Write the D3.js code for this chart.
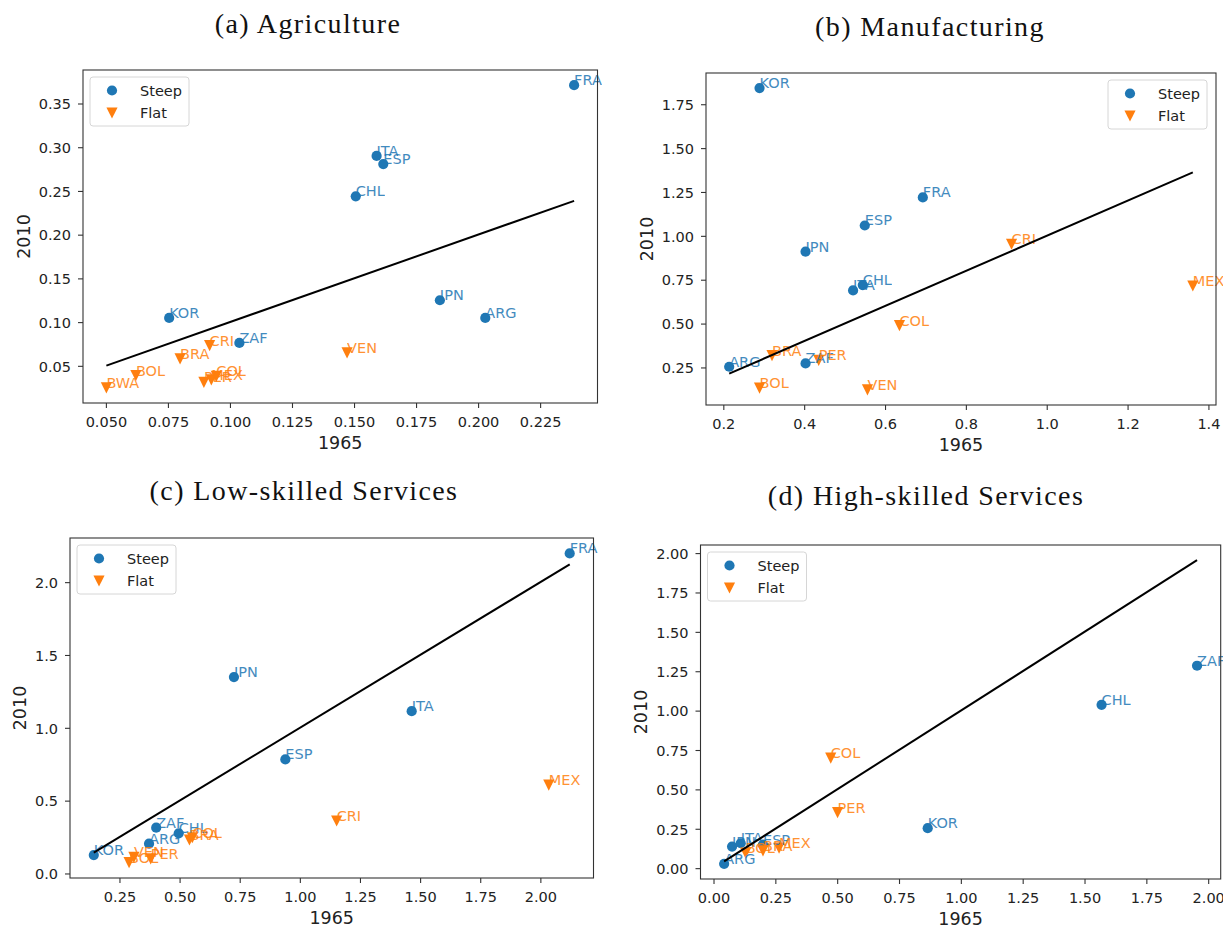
<!DOCTYPE html>
<html>
<head>
<meta charset="utf-8">
<script src="https://cdn.jsdelivr.net/npm/d3@7"></script>
<style>
  html, body { margin: 0; padding: 0; background: #fff; }
  svg { display: block; }
  .tick-label { font-family: "DejaVu Sans", sans-serif; font-size: 14.5px; fill: #222; }
  .axis-label { font-family: "DejaVu Sans", sans-serif; font-size: 17.5px; fill: #222; }
  .legend-label { font-family: "DejaVu Sans", sans-serif; font-size: 14.5px; fill: #222; }
  .point-label { font-family: "DejaVu Sans", sans-serif; font-size: 14.5px; opacity: 0.85; }
  .panel-title { font-family: "Liberation Serif", serif; font-size: 28px; letter-spacing: 1.4px; fill: #111; }
</style>
</head>
<body>
<svg id="chart" width="1223" height="928"></svg>
<script>
// Employment shares by sector, 1965 vs 2010, for countries with steep and flat profiles.
const groupNames = ["Steep", "Flat"];
const groupColors = ["#1f77b4", "#ff7f0e"];
const panelTitles = ["(a) Agriculture", "(b) Manufacturing", "(c) Low-skilled Services", "(d) High-skilled Services"];
const xAxisTitle = "1965";
const yAxisTitle = "2010";

// (a) Agriculture
const agriCodes = ["FRA", "ITA", "ESP", "CHL", "JPN", "ARG", "KOR", "ZAF", "CRI", "BRA", "VEN", "BOL", "BWA", "PER", "MEX", "COL"];
const agriGroup = ["Steep", "Steep", "Steep", "Steep", "Steep", "Steep", "Steep", "Steep", "Flat", "Flat", "Flat", "Flat", "Flat", "Flat", "Flat", "Flat"];
const agri1965 = [0.2387, 0.1591, 0.1618, 0.1507, 0.1846, 0.2029, 0.0755, 0.1038, 0.0918, 0.0799, 0.1472, 0.0621, 0.0502, 0.0895, 0.0925, 0.0945];
const agri2010 = [0.371, 0.290, 0.2807, 0.2438, 0.125, 0.1048, 0.1048, 0.0762, 0.0732, 0.058, 0.0648, 0.0389, 0.0248, 0.031, 0.034, 0.038];
const agriXTicks = [0.050, 0.075, 0.100, 0.125, 0.150, 0.175, 0.200, 0.225];
const agriYTicks = [0.05, 0.10, 0.15, 0.20, 0.25, 0.30, 0.35];

// (b) Manufacturing
const manuCodes = ["KOR", "FRA", "ESP", "JPN", "ITA", "CHL", "ARG", "ZAF", "BRA", "PER", "BOL", "VEN", "COL", "CRI", "MEX"];
const manuGroup = ["Steep", "Steep", "Steep", "Steep", "Steep", "Steep", "Steep", "Steep", "Flat", "Flat", "Flat", "Flat", "Flat", "Flat", "Flat"];
const manu1965 = [0.2896, 0.6935, 0.5499, 0.4034, 0.521, 0.545, 0.2145, 0.4034, 0.3205, 0.436, 0.2896, 0.5566, 0.6357, 0.913, 1.3614];
const manu2010 = [1.842, 1.219, 1.059, 0.910, 0.689, 0.7195, 0.254, 0.273, 0.317, 0.290, 0.132, 0.122, 0.4885, 0.952, 0.714];
const manuXTicks = [0.2, 0.4, 0.6, 0.8, 1.0, 1.2, 1.4];
const manuYTicks = [0.25, 0.50, 0.75, 1.00, 1.25, 1.50, 1.75];

// (c) Low-skilled services
const lowCodes = ["FRA", "JPN", "ITA", "ESP", "ZAF", "CHL", "ARG", "KOR", "MEX", "CRI", "BRA", "COL", "BOL", "VEN", "PER"];
const lowGroup = ["Steep", "Steep", "Steep", "Steep", "Steep", "Steep", "Steep", "Steep", "Flat", "Flat", "Flat", "Flat", "Flat", "Flat", "Flat"];
const low1965 = [2.122, 0.726, 1.465, 0.9397, 0.4027, 0.4963, 0.373, 0.1433, 2.035, 1.153, 0.541, 0.553, 0.29, 0.31, 0.38];
const low2010 = [2.197, 1.348, 1.114, 0.783, 0.3146, 0.2756, 0.2044, 0.126, 0.606, 0.360, 0.23, 0.245, 0.075, 0.11, 0.10];
const lowXTicks = [0.25, 0.50, 0.75, 1.00, 1.25, 1.50, 1.75, 2.00];
const lowYTicks = [0.0, 0.5, 1.0, 1.5, 2.0];

// (d) High-skilled services
const highCodes = ["ZAF", "CHL", "KOR", "JPN", "ITA", "ESP", "ARG", "COL", "PER", "MEX", "BOL", "BRA"];
const highGroup = ["Steep", "Steep", "Steep", "Steep", "Steep", "Steep", "Steep", "Flat", "Flat", "Flat", "Flat", "Flat"];
const high1965 = [1.955, 1.569, 0.866, 0.075, 0.11, 0.20, 0.043, 0.474, 0.5016, 0.265, 0.13, 0.20];
const high2010 = [1.285, 1.037, 0.254, 0.137, 0.158, 0.150, 0.0275, 0.698, 0.353, 0.127, 0.095, 0.11];
const highXTicks = [0.00, 0.25, 0.50, 0.75, 1.00, 1.25, 1.50, 1.75, 2.00];
const highYTicks = [0.00, 0.25, 0.50, 0.75, 1.00, 1.25, 1.50, 1.75, 2.00];

// Plot frames and formatting for each panel
const panels = [
  { codes: agriCodes, group: agriGroup, xs: agri1965, ys: agri2010, xTicks: agriXTicks, yTicks: agriYTicks,
    xFmt: ".3f", yFmt: ".2f", box: { left: 83, right: 597.5, top: 70, bottom: 403 }, titleX: 308, titleY: 33, legendSide: "left" },
  { codes: manuCodes, group: manuGroup, xs: manu1965, ys: manu2010, xTicks: manuXTicks, yTicks: manuYTicks,
    xFmt: ".1f", yFmt: ".2f", box: { left: 706, right: 1216, top: 73, bottom: 405 }, titleX: 930, titleY: 36, legendSide: "right" },
  { codes: lowCodes, group: lowGroup, xs: low1965, ys: low2010, xTicks: lowXTicks, yTicks: lowYTicks,
    xFmt: ".2f", yFmt: ".1f", box: { left: 70, right: 593.5, top: 538, bottom: 878 }, titleX: 304, titleY: 500, legendSide: "left" },
  { codes: highCodes, group: highGroup, xs: high1965, ys: high2010, xTicks: highXTicks, yTicks: highYTicks,
    xFmt: ".2f", yFmt: ".2f", box: { left: 700.5, right: 1220.7, top: 545, bottom: 879 }, titleX: 926, titleY: 505, legendSide: "left" }
];

const svg = d3.select("#chart");
svg.append("rect").attr("width", 1223).attr("height", 928).attr("fill", "#fff");

// Downward-pointing triangle marker
const triangleDown = {
  draw(context, size) {
    const s = Math.sqrt(size);
    context.moveTo(-s / 2, -s / 2);
    context.lineTo(s / 2, -s / 2);
    context.lineTo(0, s / 2);
    context.closePath();
  }
};
const symbolFor = g => g === "Steep"
  ? d3.symbol().type(d3.symbolCircle).size(Math.PI * 5.1 * 5.1)
  : d3.symbol().type(triangleDown).size(125);

function padded(lo, hi) {
  const m = (hi - lo) * 0.05;
  return [lo - m, hi + m];
}

panels.forEach((p, i) => {
  const b = p.box;
  const rows = p.codes.map((c, k) => ({ code: c, group: p.group[k], x: p.xs[k], y: p.ys[k] }));
  const xMin = d3.min(p.xs), xMax = d3.max(p.xs);
  // 45-degree reference line over the observed 1965 range
  const diag = [[xMin, xMin], [xMax, xMax]];
  const xScale = d3.scaleLinear().domain(padded(xMin, xMax)).range([b.left, b.right]);
  const yLo = Math.min(d3.min(p.ys), xMin), yHi = Math.max(d3.max(p.ys), xMax);
  const yScale = d3.scaleLinear().domain(padded(yLo, yHi)).range([b.bottom, b.top]);

  const g = svg.append("g");

  // Title
  g.append("text").attr("class", "panel-title")
    .attr("x", p.titleX).attr("y", p.titleY).attr("text-anchor", "middle")
    .text(panelTitles[i]);

  // X axis
  const xAxis = d3.axisBottom(xScale).tickValues(p.xTicks).tickFormat(d3.format(p.xFmt)).tickSize(5).tickPadding(5);
  const xg = g.append("g").attr("transform", `translate(0,${b.bottom})`).call(xAxis);
  xg.select(".domain").remove();
  xg.selectAll(".tick line").attr("stroke", "#333").attr("stroke-width", 1.1);
  xg.selectAll(".tick text").attr("class", "tick-label").attr("y", null).attr("dy", null)
    .attr("transform", "translate(0,24)");

  // Y axis
  const yAxis = d3.axisLeft(yScale).tickValues(p.yTicks).tickFormat(d3.format(p.yFmt)).tickSize(5).tickPadding(7);
  const yg = g.append("g").attr("transform", `translate(${b.left},0)`).call(yAxis);
  yg.select(".domain").remove();
  yg.selectAll(".tick line").attr("stroke", "#333").attr("stroke-width", 1.1);
  yg.selectAll(".tick text").attr("class", "tick-label").attr("x", -12).attr("dy", "0.36em");

  // Axis titles
  g.append("text").attr("class", "axis-label")
    .attr("x", (b.left + b.right) / 2).attr("y", b.bottom + 46).attr("text-anchor", "middle")
    .text(xAxisTitle);
  const tickLeft = d3.min(yg.selectAll(".tick text").nodes(), n => {
    const bb = n.getBBox();
    return b.left + bb.x;
  });
  g.append("text").attr("class", "axis-label")
    .attr("transform", `translate(${tickLeft - 9},${(b.top + b.bottom) / 2}) rotate(-90)`)
    .attr("text-anchor", "middle")
    .text(yAxisTitle);

  // Markers
  const marks = g.append("g");
  groupNames.forEach((name, gi) => {
    marks.selectAll(null).data(rows.filter(r => r.group === name)).join("path")
      .attr("d", d => symbolFor(d.group)())
      .attr("transform", d => `translate(${xScale(d.x)},${yScale(d.y)})`)
      .attr("fill", groupColors[gi]);
  });

  // Country labels
  g.append("g").selectAll("text").data(rows).join("text")
    .attr("class", "point-label")
    .attr("x", d => xScale(d.x)).attr("y", d => yScale(d.y))
    .attr("fill", d => groupColors[groupNames.indexOf(d.group)])
    .text(d => d.code);

  // Reference line
  g.append("path")
    .attr("d", d3.line().x(d => xScale(d[0])).y(d => yScale(d[1]))(diag))
    .attr("fill", "none").attr("stroke", "#000").attr("stroke-width", 2);

  // Frame
  g.append("rect").attr("x", b.left).attr("y", b.top)
    .attr("width", b.right - b.left).attr("height", b.bottom - b.top)
    .attr("fill", "none").attr("stroke", "#333").attr("stroke-width", 1.1);

  // Legend
  const lw = 99, lh = 49;
  const lx = p.legendSide === "left" ? b.left + 7 : b.right - 9 - lw;
  const ly = b.top + 7;
  const lg = g.append("g").attr("transform", `translate(${lx},${ly})`);
  lg.append("rect").attr("width", lw).attr("height", lh).attr("rx", 3)
    .attr("fill", "#fff").attr("fill-opacity", 0.8).attr("stroke", "#d6d6d6");
  groupNames.forEach((name, gi) => {
    const ry = 13.5 + gi * 22.5;
    lg.append("path").attr("d", symbolFor(name)())
      .attr("transform", `translate(22,${ry})`).attr("fill", groupColors[gi]);
    lg.append("text").attr("class", "legend-label").attr("x", 50).attr("y", ry).attr("dy", "0.36em").text(name);
  });
});
</script>
</body>
</html>
